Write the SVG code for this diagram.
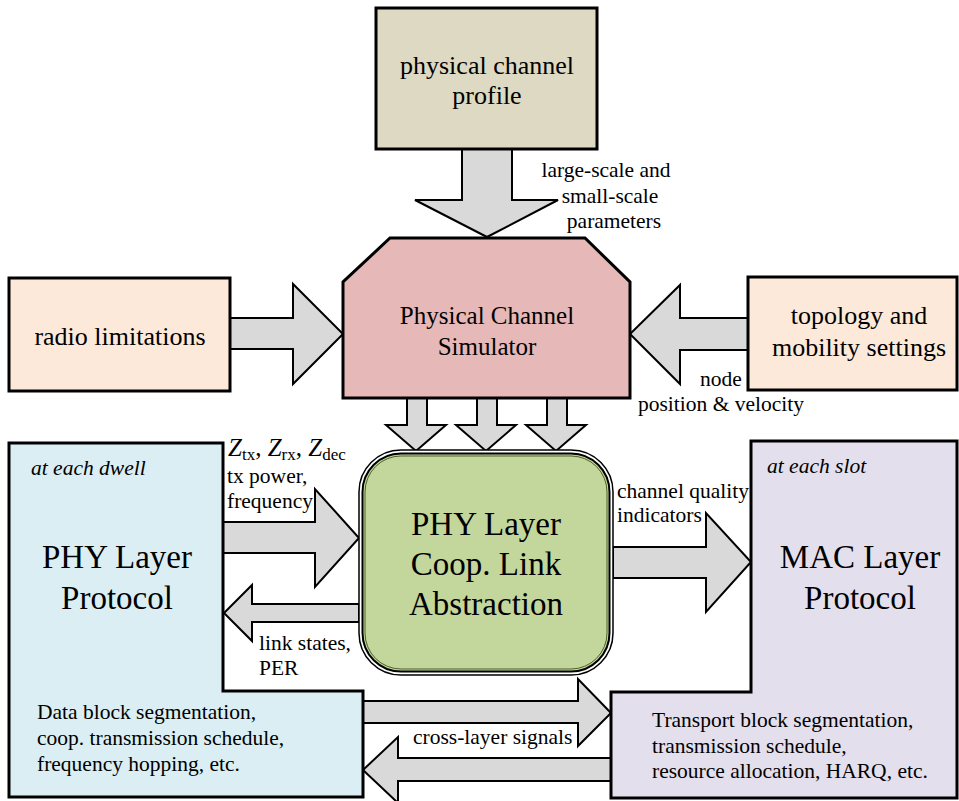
<svg xmlns="http://www.w3.org/2000/svg" width="959" height="801" viewBox="0 0 959 801">
<style>
text{font-family:"Liberation Serif","Times New Roman",serif;fill:#000}
.box{stroke:#000;stroke-width:3}
.arr{fill:#d9d9d9;stroke:#000;stroke-width:2;stroke-linejoin:miter}
.big{font-size:33px}
.mid{font-size:26px}
.lab{font-size:21.5px}
.it{font-style:italic}
</style>
<rect width="959" height="801" fill="#fff"/>
<g id="connectors">
<polygon class="arr" points="462,149 512,149 512,200 558,200 487,237 415,200 462,200"/>
<polygon class="arr" points="230,318 293,318 293,284 343,334 293,384 293,349 230,349"/>
<polygon class="arr" points="748,318 680,318 680,285 630,334 680,384 680,350 748,350"/>
<polygon class="arr" points="407,398 427,398 427,425 446,425 416,451 386,425 407,425"/>
<polygon class="arr" points="477,398 497,398 497,425 516,425 486,451 456,425 477,425"/>
<polygon class="arr" points="547,398 567,398 567,425 586,425 556,451 526,425 547,425"/>
<polygon class="arr" points="223,522 315,522 315,489 359,538 315,587 315,553 223,553"/>
<polygon class="arr" points="359,604 252,604 252,585 224,613 252,641 252,622 359,622"/>
<polygon class="arr" points="613,547 706,547 706,513 751,562 706,612 706,578 613,578"/>
<polygon class="arr" points="363,701 578,701 578,679 611,713 578,746 578,723 363,723"/>
<polygon class="arr" points="611,758 398,758 398,737 363,770 398,803 398,781 611,781"/>
</g>
<g id="profile">
<rect class="box" x="376" y="8" width="221" height="141" fill="#ddd9c3"/>
<text class="mid" x="487" y="74" text-anchor="middle">physical channel</text>
<text class="mid" x="487" y="104" text-anchor="middle">profile</text>
</g>
<g id="simulator">
<polygon class="box" points="390,238 585,238 630,282 630,398 343,398 343,282" fill="#e6b8b7"/>
<text x="487" y="324" text-anchor="middle" font-size="25">Physical Channel</text>
<text x="487" y="355" text-anchor="middle" font-size="25">Simulator</text>
</g>
<g id="radio">
<rect class="box" x="9" y="278" width="221" height="113" fill="#fde9d9"/>
<text class="mid" x="120" y="345" text-anchor="middle">radio limitations</text>
</g>
<g id="topology">
<rect class="box" x="748" y="277" width="209" height="113" fill="#fde9d9"/>
<text class="mid" x="859" y="324" text-anchor="middle">topology and</text>
<text class="mid" x="859" y="356" text-anchor="middle">mobility settings</text>
</g>
<g id="phy-protocol">
<polygon class="box" points="9,443 223,443 223,691 363,691 363,797 9,797" fill="#dbeef3"/>
<text class="lab it" x="31" y="475">at each dwell</text>
<text class="big" x="117" y="568" text-anchor="middle">PHY Layer</text>
<text class="big" x="117" y="609" text-anchor="middle">Protocol</text>
<text class="lab" x="37" y="719">Data block segmentation,</text>
<text class="lab" x="37" y="745">coop. transmission schedule,</text>
<text class="lab" x="37" y="771">frequency hopping, etc.</text>
</g>
<g id="mac-protocol">
<polygon class="box" points="751,441 957,441 957,798 611,798 611,692 751,692" fill="#e4dfec"/>
<text class="lab it" x="767" y="473">at each slot</text>
<text class="big" x="860" y="568" text-anchor="middle">MAC Layer</text>
<text class="big" x="860" y="609" text-anchor="middle">Protocol</text>
<text class="lab" x="652" y="727">Transport block segmentation,</text>
<text class="lab" x="652" y="753">transmission schedule,</text>
<text class="lab" x="652" y="778">resource allocation, HARQ, etc.</text>
</g>
<g id="coop-link">
<rect x="359" y="450" width="254" height="225" rx="42" fill="#fff" stroke="#000" stroke-width="1.5"/>
<rect x="362.5" y="453.5" width="247" height="218" rx="38.5" fill="#c3d69b" stroke="#000" stroke-width="2"/>
<rect x="365" y="456" width="242" height="213" rx="36" fill="none" stroke="#4f6228" stroke-width="1"/>
<text class="big" x="486" y="535" text-anchor="middle">PHY Layer</text>
<text class="big" x="486" y="575" text-anchor="middle">Coop. Link</text>
<text class="big" x="486" y="615" text-anchor="middle">Abstraction</text>
</g>
<g id="labels">
<text class="lab" x="606" y="177" text-anchor="middle">large-scale and</text>
<text class="lab" x="610" y="203" text-anchor="middle">small-scale</text>
<text class="lab" x="614" y="228" text-anchor="middle">parameters</text>
<text class="lab" x="721" y="386" text-anchor="middle">node</text>
<text class="lab" x="721" y="411" text-anchor="middle">position &amp; velocity</text>
<text x="228" y="456" font-size="25"><tspan font-style="italic">Z</tspan><tspan font-size="17" dy="4">tx</tspan><tspan dy="-4">, </tspan><tspan font-style="italic">Z</tspan><tspan font-size="17" dy="4">rx</tspan><tspan dy="-4">, </tspan><tspan font-style="italic">Z</tspan><tspan font-size="17" dy="4">dec</tspan></text>
<text class="lab" x="227" y="483">tx power,</text>
<text class="lab" x="227" y="508">frequency</text>
<text class="lab" x="259" y="650">link states,</text>
<text class="lab" x="259" y="675">PER</text>
<rect x="615" y="505" width="89" height="22" fill="#fff"/>
<text class="lab" x="617" y="498">channel quality</text>
<text class="lab" x="617" y="522">indicators</text>
<text class="lab" x="413" y="744">cross-layer signals</text>
</g>
</svg>
